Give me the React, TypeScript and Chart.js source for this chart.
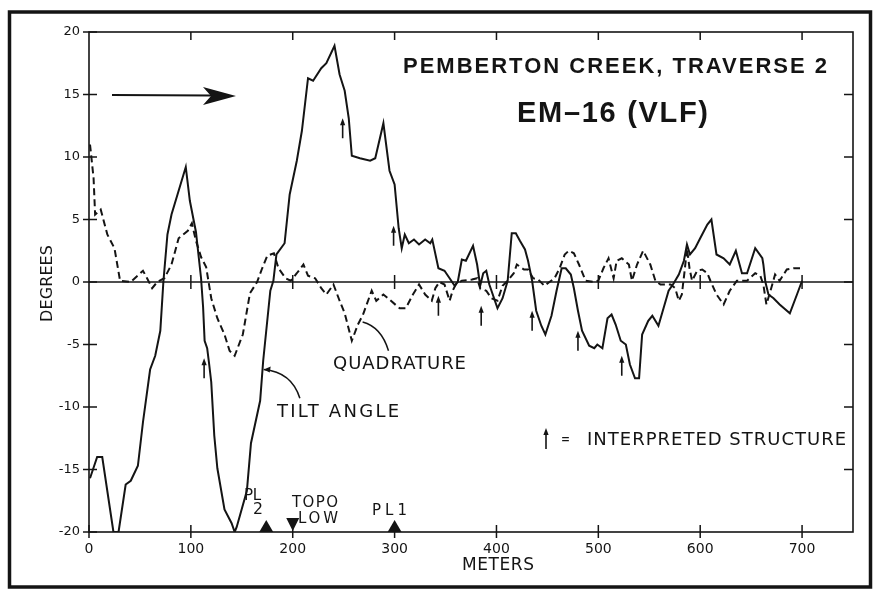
import React, { useEffect, useRef } from "react";
import { Chart, registerables } from "chart.js";

Chart.register(...registerables);

// ---- data (metres along traverse, degrees) ----
const tiltX = [1, 8, 13, 24, 29, 36, 41, 48, 53, 60, 65, 70, 73, 77, 81, 88, 95, 99, 105, 110, 112, 113.5, 116, 118, 120, 123, 126, 133, 140, 143, 145, 155, 159, 168, 171, 178, 181, 184, 192, 197, 204, 209, 215, 220, 228, 233, 241, 246, 251, 255, 258, 266, 276, 281, 289, 295, 300, 304, 307, 310, 314, 319, 324, 330, 335, 337, 343, 349, 354, 359, 362, 366, 370, 377, 381, 384, 387, 390, 393, 401, 406, 411, 415, 419, 423, 428, 431, 435, 439, 444, 448, 454, 459, 464, 468, 473, 476, 480, 484, 491, 496, 499, 504, 509, 513, 517, 522, 527, 531, 536, 540, 543, 549, 553, 559, 564, 569, 574, 579, 584, 587, 590, 595, 600, 607, 611, 616, 623, 629, 635, 641, 646, 654, 661, 662, 664, 667, 672, 678, 688, 695, 700];
const tiltY = [-15.7, -14, -14, -20, -20, -16.2, -15.9, -14.7, -11.2, -7.0, -5.9, -3.9, 0, 3.8, 5.4, 7.3, 9.2, 6.5, 4.0, 0.3, -2.0, -4.7, -5.3, -6.6, -8.0, -12.3, -14.9, -18.2, -19.3, -20, -19.6, -16.7, -12.9, -9.5, -6.3, -0.7, 0.1, 2.2, 3.1, 7.0, 9.7, 12.1, 16.3, 16.1, 17.1, 17.5, 18.9, 16.6, 15.3, 13.1, 10.1, 9.9, 9.7, 9.9, 12.7, 8.9, 7.8, 4.3, 2.7, 3.8, 3.1, 3.4, 3.0, 3.4, 3.1, 3.4, 1.1, 0.9, 0.3, -0.3, 0, 1.8, 1.7, 2.9, 1.4, -0.3, 0.7, 0.9, -0.2, -2.1, -1.3, 0.1, 3.9, 3.9, 3.3, 2.6, 1.7, 0.1, -2.3, -3.5, -4.2, -2.7, -0.7, 1.1, 1.1, 0.6, -0.5, -2.3, -3.9, -5.1, -5.3, -5.0, -5.3, -2.9, -2.6, -3.4, -4.7, -5.0, -6.6, -7.7, -7.7, -4.2, -3.1, -2.7, -3.5, -2.1, -0.7, -0.1, 0.6, 1.7, 3.0, 2.2, 2.7, 3.5, 4.6, 5.0, 2.2, 1.9, 1.4, 2.5, 0.7, 0.7, 2.7, 1.9, 1.4, 0, -1.0, -1.3, -1.8, -2.5, -1.0, 0.1];

const quadX = [1, 4.5, 6, 11.5, 18, 25, 30.5, 41, 53, 57, 62, 67, 74, 81, 88, 97, 101, 105, 110, 115, 120, 126, 133, 138, 143, 151, 158, 165, 170, 175, 181.5, 186, 193, 198, 204, 210.5, 215, 222, 228, 233, 240, 246, 251, 258, 264, 269, 277.5, 282, 289, 295, 302, 305, 311, 318, 324, 330, 336.5, 340, 344, 349, 354, 357, 360, 366, 376, 381, 384, 390, 395, 401, 406, 411, 417, 420, 427, 431, 436, 441, 447, 452, 457, 462, 467, 471, 476, 481, 487.5, 495.5, 500, 505, 510, 515, 518, 523, 530, 533, 538, 544, 551, 556, 561, 571, 575.5, 579, 582, 585, 587, 589.5, 592, 597, 602, 607, 610, 616, 623, 629, 636, 646, 654, 659, 662, 665, 669, 673.5, 678, 685, 691.5, 698];
const quadY = [11.0, 8.3, 5.4, 5.8, 3.8, 2.7, 0.1, 0, 0.9, 0.3, -0.5, 0, 0.3, 1.4, 3.5, 4.1, 4.7, 3.3, 2.0, 1.2, -1.3, -2.9, -4.2, -5.5, -5.9, -4.2, -0.9, 0, 1.1, 2.1, 2.3, 1.1, 0.3, 0.1, 0.7, 1.4, 0.5, 0.3, -0.5, -1.0, -0.2, -1.5, -2.5, -4.7, -3.4, -2.6, -0.7, -1.5, -1.0, -1.4, -1.9, -2.1, -2.1, -1.0, -0.2, -1.0, -1.5, -0.5, 0, -0.2, -1.5, -0.7, -0.2, 0.1, 0.2, 0.3, -0.5, -0.7, -1.3, -1.5, -0.3, 0.1, 0.7, 1.4, 1.0, 1.0, 0.3, 0.2, -0.3, 0, 0.3, 1.1, 2.2, 2.5, 2.3, 1.4, 0.1, 0, 0.1, 1.1, 1.9, 0.3, 1.7, 1.9, 1.4, 0.1, 1.4, 2.5, 1.4, 0.1, -0.2, -0.2, -0.5, -1.5, -1.0, 1.1, 2.7, 1.1, 0.1, 0.9, 1.0, 0.7, 0.1, -1.0, -1.8, -0.7, 0.1, 0.1, 0.7, 0.5, -0.2, -1.8, -0.7, 0.6, 0.1, 1.0, 1.1, 1.1];

// interpreted structure arrows: position (m) and value of arrow tip (deg)
const structureX = [113, 249, 299, 343, 385, 435, 480, 523];
const structureY = [-6.1, 13.1, 4.5, -1.1, -1.9, -2.3, -3.9, -5.9];

// markers on the baseline
const plMarkers = [174, 300];
const topoLowMarker = [200];

const xTickValues = [0, 100, 200, 300, 400, 500, 600, 700];
const yTickValues = [-20, -15, -10, -5, 0, 5, 10, 15, 20];

const INK = "#141414";
const LETTER = '"DejaVu Sans", sans-serif';
const BOLD = 'bold 22px "Liberation Sans", Arial, sans-serif';

function fitText(ctx: CanvasRenderingContext2D, text: string, left: number, baseline: number, font: string, width: number) {
  const c: any = ctx;
  ctx.font = font;
  if ("letterSpacing" in c) c.letterSpacing = "0px";
  ctx.textAlign = "left";
  ctx.textBaseline = "alphabetic";
  const w = ctx.measureText(text).width;
  const n = Array.from(text).length;
  if ("letterSpacing" in c && n > 1) {
    const sp = (width - w) / (n - 1);
    c.letterSpacing = sp.toFixed(2) + "px";
    ctx.fillText(text, left, baseline);
    c.letterSpacing = "0px";
  } else {
    ctx.save();
    ctx.translate(left, baseline);
    ctx.scale(width / w, 1);
    ctx.fillText(text, 0, 0);
    ctx.restore();
  }
}

function upArrow(ctx: CanvasRenderingContext2D, x: number, tipY: number, len: number) {
  ctx.lineWidth = 1.6;
  ctx.beginPath();
  ctx.moveTo(x, tipY + 4);
  ctx.lineTo(x, tipY + len);
  ctx.stroke();
  ctx.beginPath();
  ctx.moveTo(x, tipY);
  ctx.lineTo(x - 2.6, tipY + 7);
  ctx.lineTo(x + 2.6, tipY + 7);
  ctx.closePath();
  ctx.fill();
}

const annotate = {
  id: "annotate",
  afterDraw(chart: any) {
    const { ctx, chartArea: ca, scales } = chart;
    const X = (v: number) => scales.x.getPixelForValue(v);
    const Y = (v: number) => scales.y.getPixelForValue(v);
    ctx.save();
    ctx.strokeStyle = INK;
    ctx.fillStyle = INK;
    ctx.lineCap = "butt";

    // outer frame
    ctx.lineWidth = 3.5;
    ctx.strokeRect(9.5, 12, 861, 575);

    // plot box
    ctx.lineWidth = 1.6;
    ctx.strokeRect(ca.left, ca.top, ca.right - ca.left, ca.bottom - ca.top);

    // zero line
    const y0 = Y(0);
    ctx.beginPath();
    ctx.moveTo(ca.left, y0);
    ctx.lineTo(ca.right, y0);
    ctx.stroke();

    // tick marks
    ctx.lineWidth = 1.5;
    ctx.beginPath();
    xTickValues.forEach((v) => {
      const px = X(v);
      ctx.moveTo(px, ca.bottom - 7);
      ctx.lineTo(px, ca.bottom + 6);
      if (v > 0) {
        ctx.moveTo(px, ca.top);
        ctx.lineTo(px, ca.top + 8);
        ctx.moveTo(px, y0 - 7);
        ctx.lineTo(px, y0 + 7);
      }
    });
    yTickValues.forEach((v) => {
      const py = Y(v);
      ctx.moveTo(ca.left - 6, py);
      ctx.lineTo(ca.left + 8, py);
      if (v > -20 && v < 20) {
        ctx.moveTo(ca.right - 9, py);
        ctx.lineTo(ca.right, py);
      }
    });
    ctx.stroke();

    // interpreted structure arrows
    structureX.forEach((m, i) => upArrow(ctx, X(m), Y(structureY[i]), 20));

    // baseline markers
    const yb = ca.bottom;
    plMarkers.forEach((m) => {
      const px = X(m);
      ctx.beginPath();
      ctx.moveTo(px, yb - 12);
      ctx.lineTo(px - 7, yb);
      ctx.lineTo(px + 7, yb);
      ctx.closePath();
      ctx.fill();
    });
    topoLowMarker.forEach((m) => {
      const px = X(m);
      ctx.beginPath();
      ctx.moveTo(px, yb - 1);
      ctx.lineTo(px - 6.5, yb - 14);
      ctx.lineTo(px + 6.5, yb - 14);
      ctx.closePath();
      ctx.fill();
    });

    // direction arrow
    ctx.lineWidth = 2;
    ctx.beginPath();
    ctx.moveTo(112, 95);
    ctx.lineTo(212, 95.5);
    ctx.stroke();
    ctx.beginPath();
    ctx.moveTo(236, 96);
    ctx.lineTo(203, 87);
    ctx.lineTo(211, 96);
    ctx.lineTo(203, 105);
    ctx.closePath();
    ctx.fill();

    // leader lines
    ctx.lineWidth = 1.5;
    ctx.beginPath();
    ctx.moveTo(X(268.6), Y(-3.2));
    ctx.quadraticCurveTo(X(287), Y(-3.6), X(294), Y(-5.5));
    ctx.stroke();
    ctx.beginPath();
    ctx.moveTo(X(171.5), Y(-7.0));
    ctx.quadraticCurveTo(X(199), Y(-7.2), X(207), Y(-9.3));
    ctx.stroke();
    const hx = X(171.5), hy = Y(-7.0);
    ctx.beginPath();
    ctx.moveTo(hx, hy);
    ctx.lineTo(hx + 7, hy - 3);
    ctx.lineTo(hx + 6, hy + 3);
    ctx.closePath();
    ctx.fill();

    // titles
    fitText(ctx, "PEMBERTON CREEK, TRAVERSE 2", 403, 73, BOLD, 424);
    fitText(ctx, "EM\u201316 (VLF)", 517, 122, 'bold 29px "Liberation Sans", Arial, sans-serif', 191);

    // labels
    fitText(ctx, "QUADRATURE", 333, 369, `18px ${LETTER}`, 133);
    fitText(ctx, "TILT ANGLE", 277, 417, `18px ${LETTER}`, 122);
    upArrow(ctx, 546, 428, 21);
    fitText(ctx, "=", 561, 444, `16px ${LETTER}`, 9);
    fitText(ctx, "INTERPRETED STRUCTURE", 587, 445, `18px ${LETTER}`, 259);
    fitText(ctx, "PL", 244, 500, `15px ${LETTER}`, 17);
    fitText(ctx, "2", 253, 514, `15px ${LETTER}`, 10);
    fitText(ctx, "TOPO", 292, 507, `15px ${LETTER}`, 46);
    fitText(ctx, "LOW", 298, 523, `15px ${LETTER}`, 40);
    fitText(ctx, "PL1", 372, 515, `15px ${LETTER}`, 35);
    fitText(ctx, "METERS", 462, 570, `17px ${LETTER}`, 72);

    ctx.save();
    ctx.translate(52, 322);
    ctx.rotate(-Math.PI / 2);
    fitText(ctx, "DEGREES", 0, 0, `16px ${LETTER}`, 77);
    ctx.restore();

    ctx.restore();
  },
};

export default function App() {
  const ref = useRef<HTMLCanvasElement | null>(null);
  useEffect(() => {
    document.body.style.margin = "0";
    document.body.style.background = "#ffffff";
    const canvas = ref.current;
    if (!canvas) return;
    const chart = new Chart(canvas, {
      type: "line",
      data: {
        datasets: [
          {
            label: "Tilt angle",
            data: tiltX.map((x, i) => ({ x, y: tiltY[i] })),
            borderColor: INK,
            borderWidth: 2,
            pointRadius: 0,
            tension: 0,
            fill: false,
          },
          {
            label: "Quadrature",
            data: quadX.map((x, i) => ({ x, y: quadY[i] })),
            borderColor: INK,
            borderWidth: 2,
            borderDash: [7, 4],
            pointRadius: 0,
            tension: 0,
            fill: false,
          },
        ],
      },
      options: {
        responsive: false,
        animation: false,
        devicePixelRatio: 1,
        layout: { padding: { left: 29, top: 32, right: 22, bottom: 0 } },
        plugins: { legend: { display: false }, tooltip: { enabled: false } },
        scales: {
          x: {
            type: "linear",
            min: 0,
            max: 750,
            afterBuildTicks: (s: any) => {
              s.ticks = xTickValues.map((v) => ({ value: v }));
            },
            afterFit: (s: any) => {
              s.height = 61;
            },
            grid: { display: false, drawTicks: false },
            border: { display: false },
            ticks: {
              padding: 9,
              color: INK,
              font: { family: LETTER, size: 14 },
              maxRotation: 0,
              autoSkip: false,
            },
          },
          y: {
            type: "linear",
            min: -20,
            max: 20,
            afterBuildTicks: (s: any) => {
              s.ticks = yTickValues.map((v) => ({ value: v }));
            },
            afterFit: (s: any) => {
              s.width = 60;
            },
            grid: { display: false, drawTicks: false },
            border: { display: false },
            ticks: {
              padding: 9,
              color: INK,
              font: { family: LETTER, size: 13 },
              autoSkip: false,
            },
          },
        },
      },
      plugins: [annotate],
    });
    return () => chart.destroy();
  }, []);
  return (
    <div style={{ width: 875, height: 593, background: "#fff" }}>
      <canvas ref={ref} width={875} height={593} style={{ display: "block" }} />
    </div>
  );
}
